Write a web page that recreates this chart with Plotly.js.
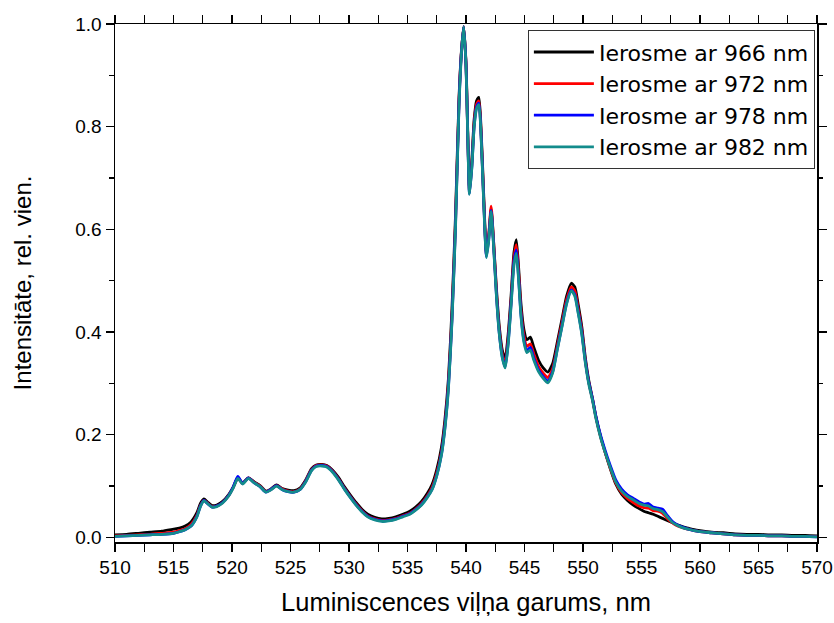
<!DOCTYPE html>
<html>
<head>
<meta charset="utf-8">
<script src="https://cdn.plot.ly/plotly-3.0.1.min.js"></script>
<style>html,body{margin:0;padding:0;background:#fff;}</style>
</head>
<body>
<div id="chart" style="width:834px;height:623px;"></div>
<script>
// Wavelength grid (nm)
const wavelength = [510,511,512,513,514,515,515.5,516,516.5,517,517.3,517.6,517.9,518.3,518.7,519.2,519.7,520.1,520.5,520.9,521.4,521.9,522.4,522.9,523.3,523.8,524.3,524.8,525.3,525.8,526.3,526.8,527.2,527.7,528.1,528.6,529.1,529.6,530.1,530.6,531.1,531.6,532.2,532.8,533.4,534.0,534.6,535.2,535.7,536.2,536.7,537.1,537.5,537.9,538.2,538.5,538.8,539.1,539.4,539.6,539.8,540.0,540.15,540.3,540.5,540.7,540.9,541.1,541.3,541.5,541.75,541.95,542.15,542.35,542.6,542.85,543.1,543.35,543.6,543.85,544.1,544.3,544.5,544.7,544.95,545.2,545.5,545.8,546.2,546.6,547.0,547.4,547.8,548.2,548.6,549.0,549.3,549.6,549.9,550.2,550.5,550.8,551.1,551.5,551.9,552.3,552.8,553.3,553.8,554.3,554.8,555.2,555.6,556.0,556.4,556.8,557.2,557.6,558.0,558.5,559.0,559.5,560,561,562,563,564,565,566,567,568,569,570];

const ex966 = [0.005,0.006,0.008,0.010,0.012,0.016,0.018,0.022,0.030,0.048,0.066,0.075,0.069,0.062,0.063,0.070,0.083,0.098,0.116,0.106,0.116,0.108,0.101,0.090,0.094,0.102,0.095,0.092,0.091,0.096,0.112,0.134,0.141,0.142,0.140,0.131,0.117,0.099,0.083,0.068,0.055,0.045,0.039,0.036,0.037,0.040,0.045,0.051,0.059,0.070,0.086,0.103,0.132,0.175,0.230,0.310,0.445,0.625,0.855,0.945,0.995,0.925,0.790,0.680,0.735,0.815,0.850,0.857,0.790,0.675,0.555,0.590,0.640,0.580,0.485,0.410,0.365,0.348,0.395,0.470,0.555,0.580,0.525,0.455,0.405,0.385,0.390,0.370,0.345,0.330,0.322,0.338,0.380,0.425,0.470,0.495,0.488,0.452,0.410,0.350,0.305,0.272,0.236,0.197,0.165,0.136,0.104,0.084,0.072,0.063,0.056,0.051,0.048,0.045,0.041,0.037,0.033,0.029,0.025,0.021,0.018,0.015,0.013,0.010,0.009,0.007,0.006,0.006,0.005,0.005,0.004,0.004,0.003];

const ex972 = [0.003,0.004,0.005,0.006,0.008,0.010,0.013,0.017,0.025,0.043,0.062,0.072,0.067,0.060,0.061,0.068,0.081,0.097,0.116,0.105,0.116,0.107,0.100,0.089,0.093,0.101,0.094,0.090,0.089,0.094,0.110,0.132,0.140,0.141,0.139,0.129,0.114,0.096,0.080,0.065,0.052,0.042,0.036,0.033,0.034,0.037,0.042,0.047,0.055,0.066,0.081,0.097,0.125,0.166,0.220,0.300,0.430,0.612,0.848,0.943,0.995,0.922,0.785,0.672,0.727,0.808,0.843,0.850,0.782,0.668,0.550,0.590,0.645,0.580,0.478,0.402,0.357,0.338,0.385,0.460,0.545,0.570,0.515,0.442,0.393,0.372,0.377,0.357,0.333,0.320,0.311,0.328,0.372,0.418,0.463,0.488,0.480,0.444,0.403,0.345,0.301,0.270,0.234,0.196,0.165,0.137,0.106,0.087,0.076,0.068,0.061,0.058,0.057,0.052,0.051,0.047,0.037,0.029,0.023,0.019,0.016,0.013,0.011,0.009,0.007,0.005,0.004,0.004,0.003,0.003,0.002,0.002,0.002];

const ex978 = [0.002,0.003,0.004,0.005,0.006,0.008,0.011,0.015,0.022,0.041,0.061,0.072,0.066,0.059,0.061,0.068,0.081,0.098,0.119,0.105,0.116,0.106,0.099,0.088,0.093,0.101,0.093,0.089,0.088,0.093,0.109,0.131,0.139,0.140,0.138,0.128,0.113,0.095,0.079,0.064,0.051,0.041,0.035,0.032,0.033,0.036,0.041,0.046,0.054,0.064,0.079,0.094,0.121,0.162,0.215,0.293,0.424,0.605,0.843,0.941,0.995,0.921,0.782,0.669,0.722,0.802,0.838,0.846,0.778,0.663,0.547,0.583,0.637,0.573,0.473,0.397,0.352,0.332,0.378,0.455,0.537,0.560,0.505,0.434,0.384,0.364,0.370,0.349,0.326,0.313,0.304,0.322,0.367,0.412,0.457,0.482,0.473,0.438,0.398,0.343,0.301,0.271,0.236,0.199,0.169,0.142,0.112,0.094,0.083,0.076,0.069,0.065,0.066,0.059,0.057,0.055,0.043,0.032,0.025,0.020,0.016,0.013,0.011,0.009,0.007,0.005,0.004,0.004,0.003,0.003,0.002,0.002,0.001];

const ex982 = [0.002,0.003,0.004,0.005,0.006,0.008,0.011,0.015,0.022,0.040,0.060,0.071,0.066,0.059,0.060,0.067,0.080,0.096,0.115,0.104,0.115,0.106,0.099,0.088,0.092,0.100,0.093,0.089,0.088,0.093,0.108,0.130,0.138,0.139,0.137,0.127,0.112,0.094,0.078,0.063,0.050,0.040,0.034,0.031,0.032,0.035,0.040,0.045,0.053,0.063,0.078,0.093,0.120,0.160,0.212,0.290,0.420,0.600,0.840,0.940,0.995,0.920,0.780,0.668,0.720,0.800,0.835,0.843,0.775,0.660,0.545,0.580,0.635,0.570,0.470,0.395,0.350,0.330,0.375,0.450,0.530,0.553,0.500,0.430,0.380,0.360,0.365,0.345,0.323,0.310,0.301,0.320,0.365,0.410,0.455,0.480,0.470,0.435,0.395,0.340,0.298,0.268,0.232,0.195,0.165,0.138,0.108,0.090,0.080,0.073,0.066,0.063,0.061,0.056,0.054,0.050,0.040,0.030,0.024,0.019,0.016,0.013,0.011,0.009,0.007,0.005,0.004,0.004,0.003,0.003,0.002,0.002,0.001];

const seriesNames = ["Ierosme ar 966 nm","Ierosme ar 972 nm","Ierosme ar 978 nm","Ierosme ar 982 nm"];
const seriesValues = [ex966, ex972, ex978, ex982];
const seriesColors = ["#000000","#ff0000","#0000ff","#138c8c"];

const xTickVals = [510,515,520,525,530,535,540,545,550,555,560,565,570];
const yTickVals = [0.0,0.2,0.4,0.6,0.8,1.0];

const FONT = "Liberation Sans, Arial, sans-serif";
const LEGEND_FONT = "DejaVu Sans, Liberation Sans, sans-serif";

const traces = seriesValues.map((vals, i) => ({
  x: wavelength,
  y: vals,
  type: "scatter",
  mode: "lines",
  name: seriesNames[i],
  line: {color: seriesColors[i], width: 2.8, shape: "spline", smoothing: 0.6}
}));

const layout = {
  width: 834, height: 623,
  margin: {l: 115, r: 17, t: 24, b: 81},
  paper_bgcolor: "#ffffff",
  plot_bgcolor: "#ffffff",
  font: {family: FONT, color: "#000"},
  showlegend: true,
  legend: {
    x: 0.997, xanchor: "right", y: 0.988, yanchor: "top",
    bgcolor: "#ffffff", bordercolor: "#333333", borderwidth: 1,
    font: {family: LEGEND_FONT, size: 22, color: "#000"},
    itemwidth: 60, tracegroupgap: 0
  },
  xaxis: {
    range: [510, 570],
    tickvals: xTickVals,
    ticktext: xTickVals.map(String),
    ticklabeloverflow: "allow",
    ticks: "outside", ticklen: 8, tickwidth: 1.2, tickcolor: "#000",
    minor: {dtick: 2.5, tick0: 510, ticks: "outside", ticklen: 8, tickwidth: 1.2, tickcolor: "#000"},
    showline: true, linecolor: "#000", linewidth: 1.5, mirror: "allticks",
    showgrid: false, zeroline: false,
    tickfont: {family: FONT, size: 19, color: "#000"},
    title: {text: "Luminiscences viļņa garums, nm", font: {family: FONT, size: 25.5, color: "#000"}, standoff: 16}
  },
  yaxis: {
    range: [-0.009, 1.0],
    tickvals: yTickVals,
    ticktext: yTickVals.map(v => v.toFixed(1)),
    ticklabeloverflow: "allow",
    ticks: "outside", ticklen: 8, tickwidth: 1.2, tickcolor: "#000",
    minor: {dtick: 0.1, tick0: 0, ticks: "outside", ticklen: 4.5, tickwidth: 1.2, tickcolor: "#000"},
    showline: true, linecolor: "#000", linewidth: 1.5, mirror: "allticks",
    showgrid: false, zeroline: false,
    tickfont: {family: FONT, size: 19, color: "#000"},
    title: {text: "Intensitāte, rel. vien.", font: {family: FONT, size: 24, color: "#000"}, standoff: 37}
  }
};

Plotly.newPlot("chart", traces, layout, {displayModeBar: false, staticPlot: true});
</script>
</body>
</html>
